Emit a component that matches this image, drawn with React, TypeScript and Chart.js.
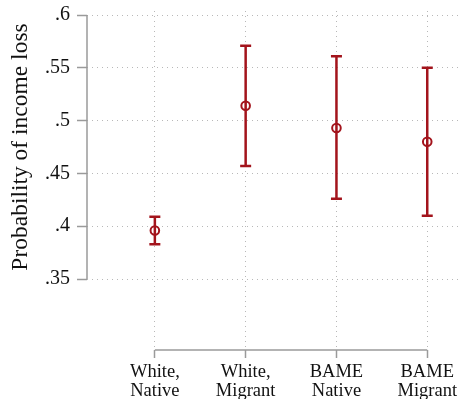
import React, { useEffect, useRef } from 'react';
import { Chart, registerables } from 'chart.js';

Chart.register(...registerables);

const categories: string[][] = [
  ['White,', 'Native'],
  ['White,', 'Migrant'],
  ['BAME', 'Native'],
  ['BAME', 'Migrant'],
];
const positions = [1, 2, 3, 4];
const estimates = [0.396, 0.514, 0.493, 0.48];
const upperCI = [0.409, 0.571, 0.561, 0.55];
const lowerCI = [0.383, 0.457, 0.426, 0.41];
const yTicks = [0.35, 0.4, 0.45, 0.5, 0.55, 0.6];
const yTickLabels = ['.35', '.4', '.45', '.5', '.55', '.6'];
const yTitle = 'Probability of income loss';

const RED = '#a3141c';
const AXIS = '#9a9a9a';
const GRID = '#b8b8b8';
const FONT = '"Liberation Serif", "Times New Roman", serif';

const decorPlugin = {
  id: 'decor',
  beforeDatasetsDraw(chart: any) {
    const { ctx, chartArea, scales } = chart;
    const xs = scales.x;
    const ys = scales.y;
    ctx.save();
    ctx.strokeStyle = AXIS;
    ctx.lineWidth = 1.5;
    ctx.setLineDash([]);
    ctx.beginPath();
    const xl = chartArea.left;
    ctx.moveTo(xl, ys.getPixelForValue(yTicks[0]));
    ctx.lineTo(xl, ys.getPixelForValue(yTicks[yTicks.length - 1]));
    const yb = chartArea.bottom;
    ctx.moveTo(xs.getPixelForValue(positions[0]), yb);
    ctx.lineTo(xs.getPixelForValue(positions[positions.length - 1]), yb);
    ctx.stroke();

    ctx.strokeStyle = RED;
    ctx.lineWidth = 2.5;
    ctx.lineCap = 'butt';
    for (let i = 0; i < positions.length; i++) {
      const x = xs.getPixelForValue(positions[i]);
      const yu = ys.getPixelForValue(upperCI[i]);
      const yl = ys.getPixelForValue(lowerCI[i]);
      ctx.beginPath();
      ctx.moveTo(x, yu);
      ctx.lineTo(x, yl);
      ctx.moveTo(x - 5.5, yu);
      ctx.lineTo(x + 5.5, yu);
      ctx.moveTo(x - 5.5, yl);
      ctx.lineTo(x + 5.5, yl);
      ctx.stroke();
    }

    const yc = ys.getPixelForValue((yTicks[0] + yTicks[yTicks.length - 1]) / 2);
    ctx.translate(26.5, yc);
    ctx.rotate(-Math.PI / 2);
    ctx.fillStyle = '#111';
    ctx.font = `23.5px ${FONT}`;
    ctx.textAlign = 'center';
    ctx.textBaseline = 'alphabetic';
    ctx.fillText(yTitle, 0, 0);
    ctx.restore();
  },
};

export default function App() {
  const ref = useRef<HTMLCanvasElement | null>(null);

  useEffect(() => {
    if (!ref.current) return;
    const chart = new Chart(ref.current, {
      type: 'scatter',
      data: {
        datasets: [
          {
            data: positions.map((p, i) => ({ x: p, y: estimates[i] })),
            pointStyle: 'circle',
            pointRadius: 4.3,
            pointBorderWidth: 2,
            pointBorderColor: RED,
            pointBackgroundColor: 'rgba(0,0,0,0)',
            showLine: false,
          },
        ],
      },
      options: {
        animation: false,
        responsive: true,
        maintainAspectRatio: false,
        layout: { padding: { top: 11, left: 0, right: 0, bottom: 0 } },
        plugins: {
          legend: { display: false },
          tooltip: { enabled: false },
        },
        scales: {
          x: {
            type: 'linear',
            min: 0.2527,
            max: 4.3574,
            afterBuildTicks: (s: any) => {
              s.ticks = positions.map((v) => ({ value: v }));
            },
            afterFit: (s: any) => {
              s.height = 49;
              s.paddingLeft = 0;
              s.paddingRight = 0;
            },
            border: { display: false, dash: [1, 4] },
            grid: {
              color: GRID,
              lineWidth: 1,
              drawTicks: true,
              tickLength: 8,
              tickColor: AXIS,
              tickWidth: 1.5,
              tickBorderDash: [],
            },
            ticks: {
              autoSkip: false,
              maxRotation: 0,
              minRotation: 0,
              padding: 5,
              color: '#111',
              font: { family: FONT, size: 18.5, lineHeight: 1.0 },
              callback: (_v: any, i: number) => categories[i],
            },
          },
          y: {
            type: 'linear',
            min: 0.28277,
            max: 0.60379,
            afterBuildTicks: (s: any) => {
              s.ticks = yTicks.map((v) => ({ value: v }));
            },
            afterFit: (s: any) => {
              s.width = 87;
              s.paddingTop = 0;
              s.paddingBottom = 0;
            },
            border: { display: false, dash: [1, 4] },
            grid: {
              color: GRID,
              lineWidth: 1,
              drawTicks: true,
              tickLength: 10,
              tickColor: AXIS,
              tickWidth: 1.5,
              tickBorderDash: [],
            },
            ticks: {
              padding: 7,
              color: '#111',
              font: { family: FONT, size: 20 },
              callback: (_v: any, i: number) => yTickLabels[i],
            },
          },
        },
      },
      plugins: [decorPlugin],
    });
    return () => chart.destroy();
  }, []);

  return (
    <div style={{ position: 'absolute', left: 0, top: 0, width: 466, height: 399 }}>
      <canvas ref={ref} />
    </div>
  );
}
